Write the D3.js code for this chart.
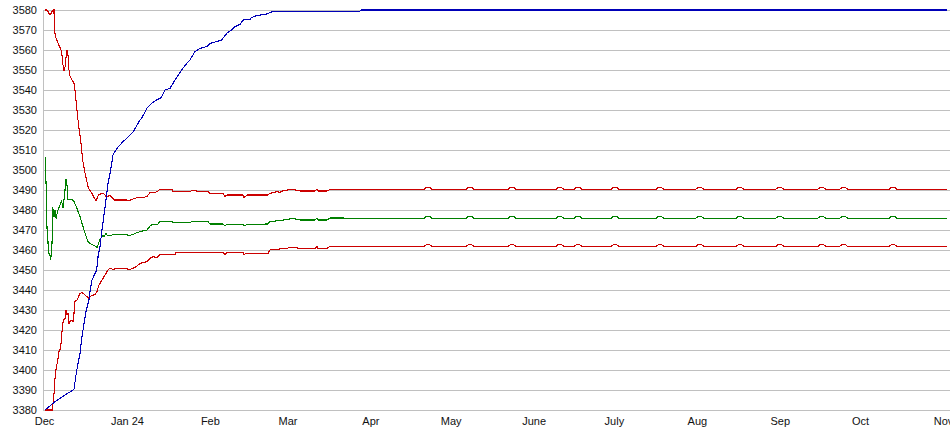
<!DOCTYPE html>
<html>
<head>
<meta charset="utf-8">
<script src="https://cdn.jsdelivr.net/npm/d3@7"></script>
<style>
  html, body { margin: 0; padding: 0; background: #fff; }
  svg { display: block; }
  text { font-family: Arial, "Liberation Sans", sans-serif; font-size: 11px; fill: #111; }
</style>
</head>
<body>
<svg id="chart" width="950" height="435"></svg>
<script>
// ---- Data (day offset from 1 Dec 2023, value) ----
const monthLabels = ["Dec", "Jan 24", "Feb", "Mar", "Apr", "May", "June", "July", "Aug", "Sep", "Oct", "Nov"];
const yTicks = [3380, 3390, 3400, 3410, 3420, 3430, 3440, 3450, 3460, 3470, 3480, 3490, 3500, 3510, 3520, 3530, 3540, 3550, 3560, 3570, 3580];

const blueSeries = [
  [0.4, 3380], [4.1, 3384.2], [7.85, 3387.5], [11.2, 3390.3], [11.96, 3397.5], [12.7, 3403.3],
  [13.45, 3408.3], [14.2, 3416.7], [14.95, 3423.3], [15.7, 3429.2], [16.8, 3435], [17.2, 3439.2],
  [17.94, 3445], [19.7, 3450], [20.2, 3456.7], [20.93, 3461.7], [21.67, 3470], [22.42, 3477.5],
  [23.17, 3485], [23.92, 3493.3], [24.66, 3498.3], [25.41, 3504.2], [25.78, 3507.5], [26.53, 3509.2],
  [27.28, 3510.8], [28.4, 3512.5], [29.52, 3514.2], [30.9, 3515.8], [33.4, 3519.2], [35.87, 3525],
  [36.5, 3525.8], [38.4, 3530.8], [40.25, 3533.3], [42.1, 3535], [43.35, 3535.8], [43.98, 3536.7],
  [45.22, 3540], [47.09, 3540.8], [48.95, 3545], [51.46, 3550], [53.33, 3553.3], [54.56, 3555],
  [56.43, 3559.2], [58.3, 3560.8], [60.8, 3561.7], [62.03, 3563.3], [64.54, 3564.2], [66.4, 3565],
  [68.27, 3568.3], [70.14, 3570], [71.38, 3571.7], [73.24, 3572.8], [74.48, 3575], [76.98, 3575.3],
  [77.62, 3576.3], [79.48, 3577.2], [83.22, 3578], [85.69, 3579.4], [118.1, 3579.4], [118.46, 3580],
  [337.4, 3580]
];

const upperRedSeries = [
  [0.37, 3580], [1.12, 3580], [2.24, 3577.5], [3.36, 3580], [3.74, 3580], [3.85, 3570], [4.48, 3566],
  [5.23, 3563.5], [6.35, 3560], [6.73, 3557.5], [7.1, 3552.5], [7.47, 3549.5], [7.85, 3551.5],
  [8.22, 3556], [8.6, 3560], [8.97, 3557.5], [9.34, 3550], [9.72, 3547], [10.46, 3545], [11.21, 3543.5],
  [11.58, 3540], [11.96, 3535], [12.33, 3530], [12.71, 3525], [13.08, 3521], [13.7, 3515],
  [14.46, 3505], [15.32, 3498.5], [16.56, 3491], [17.82, 3488.5], [19.43, 3484.5], [20.3, 3487.5],
  [22.05, 3488.5], [23.43, 3486.5], [24.66, 3487.5], [26.16, 3485], [31.02, 3485], [31.39, 3484.5],
  [33.26, 3485.5], [34.75, 3486.2], [35.87, 3486], [38.49, 3486.7], [39.61, 3488.8], [40.73, 3488.5],
  [42.23, 3489.2], [43.35, 3490.3], [47.83, 3490.3], [48.21, 3489.2], [54.56, 3489.2], [55.31, 3489.7],
  [56.8, 3489.7], [57.5, 3489.2], [61.29, 3489.2], [62.03, 3488.3], [66.89, 3488.3], [67.64, 3486.7],
  [68.39, 3487.5], [74.36, 3487.5], [74.74, 3486.2], [75.86, 3487.5], [83.71, 3487.5], [84.45, 3488.3],
  [87.07, 3489.2], [88.19, 3488.8], [89.31, 3489.7], [93.05, 3490.3], [95.67, 3489.5], [101.27, 3489.5],
  [102.02, 3490.3], [102.39, 3489.5], [105.75, 3489.5], [106.88, 3490.3],
  [142, 3490.3], [143, 3491.4], [144, 3491.4], [145, 3490.3],
  [157.7, 3490.3], [158.7, 3491.4], [159.7, 3491.4], [160.7, 3490.3],
  [173.4, 3490.3], [174.4, 3491.4], [175.4, 3491.4], [176.4, 3490.3],
  [191.3, 3490.3], [192.3, 3491.4], [193.3, 3491.4], [194.3, 3490.3],
  [198.1, 3490.3], [199.1, 3491.4], [200.1, 3491.4], [201.1, 3490.3],
  [211.9, 3490.3], [212.9, 3491.4], [213.9, 3491.4], [214.9, 3490.3],
  [228.7, 3490.3], [229.7, 3491.4], [230.7, 3491.4], [231.7, 3490.3],
  [243.6, 3490.3], [244.6, 3491.4], [245.6, 3491.4], [246.6, 3490.3],
  [258.6, 3490.3], [259.6, 3491.4], [260.6, 3491.4], [261.6, 3490.3],
  [273.5, 3490.3], [274.5, 3491.4], [275.5, 3491.4], [276.5, 3490.3],
  [289.2, 3490.3], [290.2, 3491.4], [291.2, 3491.4], [292.2, 3490.3],
  [297.4, 3490.3], [298.4, 3491.4], [299.4, 3491.4], [300.4, 3490.3],
  [315.8, 3490.3], [316.8, 3491.4], [317.8, 3491.4], [318.8, 3490.3],
  [337.4, 3490.3]
];

const greenSeries = [
  [0.5, 3506.7], [0.5, 3495], [0.75, 3494.2], [1.12, 3470.8], [1.37, 3470], [1.5, 3463.3], [1.87, 3458.3],
  [2.24, 3457.5], [2.5, 3455], [2.99, 3463.3], [3.1, 3467.5], [3.24, 3481.3], [3.74, 3476.7],
  [4.11, 3480], [4.48, 3475.8], [5.23, 3480], [5.98, 3482.5], [6.6, 3484.5], [7.1, 3480.8],
  [7.47, 3485], [7.85, 3490], [8.22, 3495.3], [8.6, 3492.5], [8.97, 3485.3], [10.46, 3485.3],
  [11.21, 3484.2], [11.96, 3482], [13.45, 3476.7], [14.95, 3470], [16.44, 3464.2], [17.56, 3463],
  [19.06, 3462], [19.81, 3461.2], [20.93, 3465.3], [22.05, 3467.5], [22.42, 3466.7], [23.17, 3468.3],
  [23.54, 3467.5], [24.66, 3467.2], [26.16, 3467.8], [31.02, 3467.8], [31.39, 3467], [33.26, 3467.8],
  [34.75, 3468.7], [35.87, 3469.2], [38.49, 3470], [39.61, 3472], [40.73, 3473], [42.23, 3472.5],
  [43.35, 3474.2], [47.83, 3474.2], [48.21, 3473.8], [54.56, 3473.8], [55.31, 3474.2], [61.29, 3474.2],
  [62.03, 3473], [66.89, 3473], [67.64, 3472], [68.39, 3472.8], [74.36, 3472.8], [74.74, 3472],
  [75.86, 3472.8], [83.71, 3473], [84.45, 3474.2], [88.19, 3474.7], [93.05, 3475.8], [95.67, 3475],
  [101.27, 3475], [102.02, 3475.8], [102.39, 3475], [105.75, 3475], [106.88, 3476],
  [142, 3475.8], [143, 3476.9], [144, 3476.9], [145, 3475.8],
  [157.7, 3475.8], [158.7, 3476.9], [159.7, 3476.9], [160.7, 3475.8],
  [173.4, 3475.8], [174.4, 3476.9], [175.4, 3476.9], [176.4, 3475.8],
  [191.3, 3475.8], [192.3, 3476.9], [193.3, 3476.9], [194.3, 3475.8],
  [198.1, 3475.8], [199.1, 3476.9], [200.1, 3476.9], [201.1, 3475.8],
  [211.9, 3475.8], [212.9, 3476.9], [213.9, 3476.9], [214.9, 3475.8],
  [228.7, 3475.8], [229.7, 3476.9], [230.7, 3476.9], [231.7, 3475.8],
  [243.6, 3475.8], [244.6, 3476.9], [245.6, 3476.9], [246.6, 3475.8],
  [258.6, 3475.8], [259.6, 3476.9], [260.6, 3476.9], [261.6, 3475.8],
  [273.5, 3475.8], [274.5, 3476.9], [275.5, 3476.9], [276.5, 3475.8],
  [289.2, 3475.8], [290.2, 3476.9], [291.2, 3476.9], [292.2, 3475.8],
  [297.4, 3475.8], [298.4, 3476.9], [299.4, 3476.9], [300.4, 3475.8],
  [315.8, 3475.8], [316.8, 3476.9], [317.8, 3476.9], [318.8, 3475.8],
  [337.4, 3475.8]
];

const lowerRedSeries = [
  [0.37, 3380], [3.1, 3380], [3.49, 3385], [3.74, 3388.3], [4.11, 3395.8], [4.48, 3400],
  [5.23, 3405.8], [5.6, 3409.2], [6.2, 3410.8], [6.73, 3419.2], [7.2, 3425], [7.85, 3425.8],
  [8.22, 3430], [8.6, 3427.5], [8.97, 3428.3], [9.34, 3423.3], [9.72, 3424.2], [10.46, 3425],
  [10.84, 3424.2], [11.21, 3428.3], [11.58, 3434.2], [12.33, 3435], [13.45, 3438.3], [14.2, 3438.8],
  [15.32, 3437.5], [16.82, 3435.8], [17.56, 3437], [19.06, 3437.8], [19.81, 3439.2], [20.55, 3442.5],
  [21.67, 3445], [22.8, 3447.5], [23.92, 3450], [24.66, 3450.8], [25.78, 3450.3], [27.28, 3450.8],
  [31.02, 3450.8], [31.39, 3450], [33.26, 3450.8], [34.75, 3452], [35.87, 3453.3], [38.49, 3454.2],
  [39.61, 3455.8], [40.73, 3456.7], [42.23, 3456.2], [43.35, 3457.8], [48.95, 3457.8], [49.3, 3458.8],
  [66.89, 3458.8], [67.64, 3457.8], [68.39, 3458.8], [74.36, 3458.8], [74.74, 3457.8], [75.86, 3458.3],
  [83.71, 3458.3], [84.45, 3460], [88.19, 3460.5], [93.05, 3461.3], [95.67, 3460.8], [101.27, 3460.8],
  [102.02, 3461.7], [102.39, 3460.8], [105.75, 3460.8], [106.88, 3461.8],
  [142, 3461.8], [143, 3462.8], [144, 3462.8], [145, 3461.8],
  [157.7, 3461.8], [158.7, 3462.8], [159.7, 3462.8], [160.7, 3461.8],
  [173.4, 3461.8], [174.4, 3462.8], [175.4, 3462.8], [176.4, 3461.8],
  [191.3, 3461.8], [192.3, 3462.8], [193.3, 3462.8], [194.3, 3461.8],
  [198.1, 3461.8], [199.1, 3462.8], [200.1, 3462.8], [201.1, 3461.8],
  [211.9, 3461.8], [212.9, 3462.8], [213.9, 3462.8], [214.9, 3461.8],
  [228.7, 3461.8], [229.7, 3462.8], [230.7, 3462.8], [231.7, 3461.8],
  [243.6, 3461.8], [244.6, 3462.8], [245.6, 3462.8], [246.6, 3461.8],
  [258.6, 3461.8], [259.6, 3462.8], [260.6, 3462.8], [261.6, 3461.8],
  [273.5, 3461.8], [274.5, 3462.8], [275.5, 3462.8], [276.5, 3461.8],
  [289.2, 3461.8], [290.2, 3462.8], [291.2, 3462.8], [292.2, 3461.8],
  [297.4, 3461.8], [298.4, 3462.8], [299.4, 3462.8], [300.4, 3461.8],
  [315.8, 3461.8], [316.8, 3462.8], [317.8, 3462.8], [318.8, 3461.8],
  [337.4, 3461.8]
];

// ---- Chart ----
const START = Date.UTC(2023, 11, 1);
const toDate = d => new Date(START + d * 864e5);
const svg = d3.select("#chart");

const x = d3.scaleUtc()
  .domain([new Date(START), new Date(Date.UTC(2024, 10, 1))])
  .range([44, 943]);
const y = d3.scaleLinear().domain([3380, 3580]).range([410, 10]);

// gridlines
svg.append("g").selectAll("line").data(yTicks).join("line")
  .attr("x1", 43).attr("x2", 950)
  .attr("y1", d => Math.round(y(d)) + 0.5).attr("y2", d => Math.round(y(d)) + 0.5)
  .attr("stroke", "#c0c0c0").attr("stroke-width", 1);
svg.append("line")
  .attr("x1", 43.5).attr("x2", 43.5).attr("y1", y(3580)).attr("y2", y(3380) + 1)
  .attr("stroke", "#c0c0c0");

// y axis labels
const yAxis = d3.axisLeft(y).tickValues(yTicks).tickSize(0).tickPadding(6).tickFormat(d3.format("d"));
const gy = svg.append("g").attr("transform", "translate(43,0)").call(yAxis);
gy.select(".domain").remove();
gy.selectAll("text").style("font-family", "Arial, 'Liberation Sans', sans-serif").style("font-size", "11px").attr("fill", "#111");

// x axis labels (last label is clipped by the right edge, as in the reference)
const monthDates = monthLabels.map((_, i) => new Date(Date.UTC(2023, 11 + i, 1)));
const xAxis = d3.axisBottom(x).tickValues(monthDates).tickSize(0).tickPadding(7)
  .tickFormat((d, i) => monthLabels[i]);
const gx = svg.append("g").attr("transform", "translate(0,410)").call(xAxis);
gx.select(".domain").remove();
gx.selectAll("text").style("font-family", "Arial, 'Liberation Sans', sans-serif").style("font-size", "11px").attr("fill", "#111");

// lines
const line = d3.line().x(d => x(toDate(d[0]))).y(d => y(d[1]));
const series = [
  { data: lowerRedSeries, color: "#cc0000" },
  { data: greenSeries, color: "#008000" },
  { data: upperRedSeries, color: "#cc0000" },
  { data: blueSeries, color: "#0000b8" }
];
svg.append("g").selectAll("path").data(series).join("path")
  .attr("d", s => line(s.data))
  .attr("fill", "none")
  .attr("stroke", s => s.color)
  .attr("stroke-width", 1.1)
  .attr("shape-rendering", "crispEdges");
</script>
</body>
</html>
